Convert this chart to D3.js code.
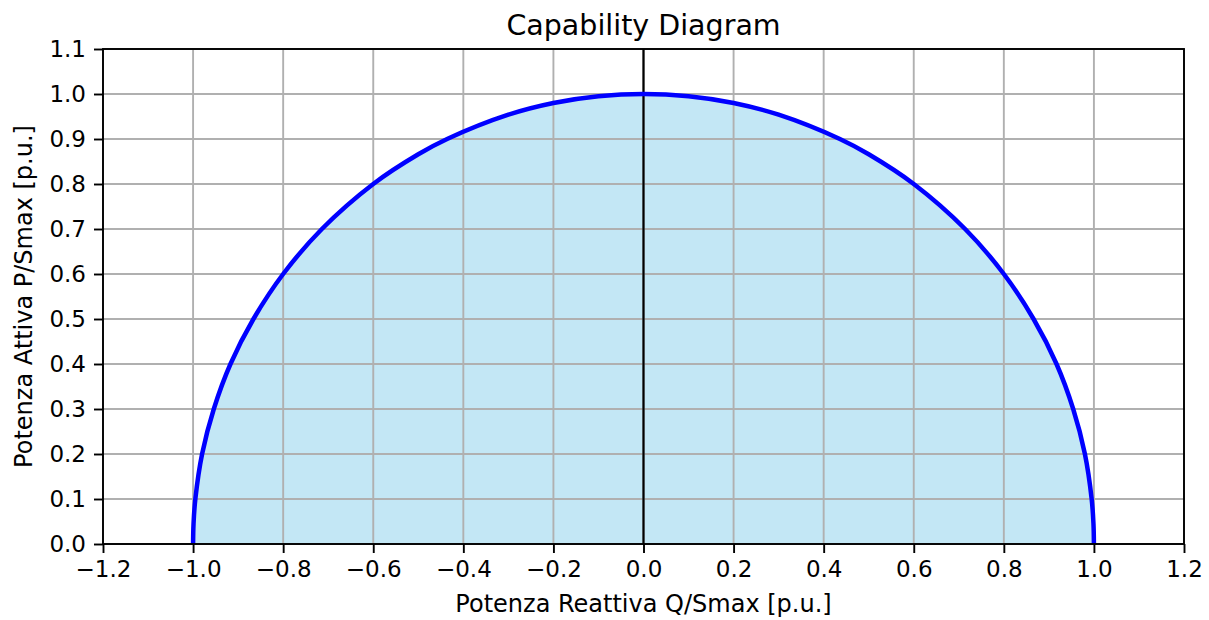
<!DOCTYPE html>
<html>
<head>
<meta charset="utf-8">
<script src="https://cdn.jsdelivr.net/npm/d3@7"></script>
<style>
  html, body { margin: 0; padding: 0; background: #fff; }
  svg { display: block; font-family: "DejaVu Sans", sans-serif; }
</style>
</head>
<body>
<svg id="chart" width="1209" height="620"></svg>
<script>
// ---- data ----
const chartTitle = "Capability Diagram";
const xLabel = "Potenza Reattiva Q/Smax [p.u.]";
const yLabel = "Potenza Attiva P/Smax [p.u.]";
const xTicks = [-1.2, -1.0, -0.8, -0.6, -0.4, -0.2, 0.0, 0.2, 0.4, 0.6, 0.8, 1.0, 1.2];
const yTicks = [0.0, 0.1, 0.2, 0.3, 0.4, 0.5, 0.6, 0.7, 0.8, 0.9, 1.0, 1.1];
// capability boundary points (Q, P)
const qValues = [-1.0, -0.999, -0.995, -0.98, -0.954, -0.917, -0.866, -0.8, -0.714, -0.6, -0.5, -0.436, -0.3, -0.2, -0.1, 0.0,
                 0.1, 0.2, 0.3, 0.436, 0.5, 0.6, 0.714, 0.8, 0.866, 0.917, 0.954, 0.98, 0.995, 0.999, 1.0];
const pValues = [0.0, 0.045, 0.1, 0.2, 0.3, 0.4, 0.5, 0.6, 0.7, 0.8, 0.866, 0.9, 0.954, 0.98, 0.995, 1.0,
                 0.995, 0.98, 0.954, 0.9, 0.866, 0.8, 0.7, 0.6, 0.5, 0.4, 0.3, 0.2, 0.1, 0.045, 0.0];
const vLineQ = [0.0];

// ---- layout ----
const svg = d3.select("#chart");
const plot = { left: 103, right: 1184, top: 49, bottom: 544 };
const x = d3.scaleLinear().domain([-1.2, 1.2]).range([plot.left, plot.right]);
const y = d3.scaleLinear().domain([0, 1.1]).range([plot.bottom, plot.top]);
const points = qValues.map((q, i) => [q, pValues[i]]);
const fmt = d => d3.format(".1f")(d).replace("-", "\u2212");

// fill
svg.append("path")
  .datum(points)
  .attr("d", d3.area().x(d => x(d[0])).y0(y(0)).y1(d => y(d[1])).curve(d3.curveCatmullRom.alpha(0.5)))
  .attr("fill", "rgb(195,231,245)");

// grid
const grid = svg.append("g").attr("stroke", "#b0b0b0").attr("stroke-width", 1.9);
grid.selectAll("line.gx").data(xTicks).enter().append("line")
  .attr("x1", d => x(d)).attr("x2", d => x(d)).attr("y1", plot.top).attr("y2", plot.bottom);
grid.selectAll("line.gy").data(yTicks).enter().append("line")
  .attr("x1", plot.left).attr("x2", plot.right).attr("y1", d => y(d)).attr("y2", d => y(d));

// vertical line at Q = 0
svg.selectAll("line.vl").data(vLineQ).enter().append("line")
  .attr("x1", d => x(d)).attr("x2", d => x(d)).attr("y1", plot.top).attr("y2", plot.bottom)
  .attr("stroke", "#000").attr("stroke-width", 2.2);

// boundary curve
svg.append("path")
  .datum(points)
  .attr("d", d3.line().x(d => x(d[0])).y(d => y(d[1])).curve(d3.curveCatmullRom.alpha(0.5)))
  .attr("fill", "none").attr("stroke", "#0000ff").attr("stroke-width", 4.5);

// axes
const xAxis = svg.append("g").attr("transform", `translate(0,${plot.bottom})`)
  .call(d3.axisBottom(x).tickValues(xTicks).tickFormat(fmt).tickSize(9).tickPadding(8));
const yAxis = svg.append("g").attr("transform", `translate(${plot.left},0)`)
  .call(d3.axisLeft(y).tickValues(yTicks).tickFormat(fmt).tickSize(9).tickPadding(8));
[xAxis, yAxis].forEach(a => {
  a.select(".domain").remove();
  a.selectAll(".tick line").attr("stroke", "#000").attr("stroke-width", 1.9);
  a.selectAll(".tick text").attr("fill", "#000").style("font-size", "23px").style("font-family", "DejaVu Sans");
});

// frame
svg.append("rect")
  .attr("x", plot.left).attr("y", plot.top)
  .attr("width", plot.right - plot.left).attr("height", plot.bottom - plot.top)
  .attr("fill", "none").attr("stroke", "#000").attr("stroke-width", 1.9);

// title and labels
svg.append("text").attr("x", (plot.left + plot.right) / 2).attr("y", 35)
  .attr("text-anchor", "middle").style("font-size", "28.5px").attr("fill", "#000").text(chartTitle);
svg.append("text").attr("x", (plot.left + plot.right) / 2).attr("y", 612)
  .attr("text-anchor", "middle").style("font-size", "24px").attr("fill", "#000").text(xLabel);
svg.append("text")
  .attr("transform", `translate(32,${(plot.top + plot.bottom) / 2}) rotate(-90)`)
  .attr("text-anchor", "middle").style("font-size", "24px").attr("fill", "#000").text(yLabel);
</script>
</body>
</html>
